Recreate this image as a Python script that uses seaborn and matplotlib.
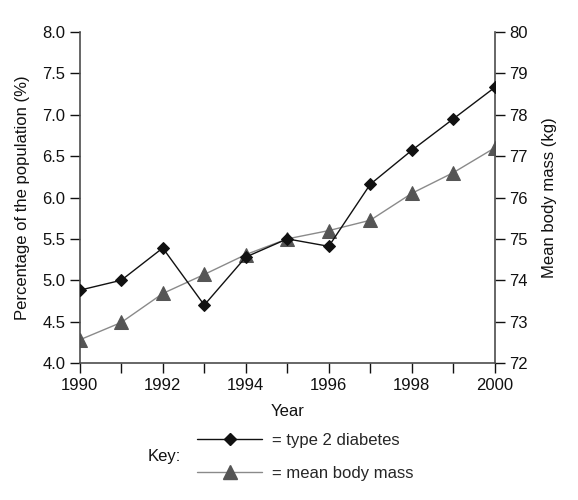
import numpy as np
import pandas as pd
import matplotlib
matplotlib.use("Agg")
import matplotlib.pyplot as plt
import seaborn as sns
from matplotlib.lines import Line2D

# Data
years = [1990, 1991, 1992, 1993, 1994, 1995, 1996, 1997, 1998, 1999, 2000]
diabetes_pct = [4.88, 5.0, 5.39, 4.70, 5.28, 5.5, 5.41, 6.16, 6.57, 6.95, 7.33]
body_mass_kg = [72.56, 72.98, 73.68, 74.14, 74.62, 75.0, 75.2, 75.45, 76.1, 76.6, 77.2]

df = pd.DataFrame({'Year': years, 'Diabetes': diabetes_pct, 'Mass': body_mass_kg})

sns.set_style("ticks")
plt.rcParams['font.family'] = ['Liberation Sans', 'DejaVu Sans']
plt.rcParams['font.size'] = 12

fig = plt.figure(figsize=(5.78, 5.0), dpi=100)
ax = fig.add_axes([0.138, 0.274, 0.718, 0.662])
ax2 = ax.twinx()

dark = '#111111'
spine_col = '#4d4d4d'
grey_line = '#8a8a8a'
grey_mark = '#555555'

# body mass (right axis) drawn first so diabetes sits on top
sns.lineplot(data=df, x='Year', y='Mass', ax=ax2, color=grey_line, linewidth=1.0,
             marker='^', markersize=10, markerfacecolor=grey_mark,
             markeredgecolor=grey_mark, zorder=2)
sns.lineplot(data=df, x='Year', y='Diabetes', ax=ax, color=dark, linewidth=1.0,
             marker='D', markersize=6.5, markerfacecolor=dark,
             markeredgecolor=dark, zorder=3)
ax.set_zorder(ax2.get_zorder() + 1)
ax.patch.set_visible(False)

ax.set_xlim(1990, 2000)
ax.set_ylim(4.0, 8.0)
ax2.set_ylim(72, 80)
ax.set_xticks(range(1990, 2001))
ax.set_xticklabels([str(y) if y % 2 == 0 else '' for y in range(1990, 2001)])
ax.set_yticks(np.arange(4.0, 8.01, 0.5))
ax.set_yticklabels([f"{v:.1f}" for v in np.arange(4.0, 8.01, 0.5)])
ax2.set_yticks(range(72, 81))

ax.set_xlabel("Year", fontsize=12, labelpad=8, color=dark)
ax.set_ylabel("Percentage of the population (%)", fontsize=12, labelpad=9, color=dark)
ax2.set_ylabel("Mean body mass (kg)", fontsize=12, labelpad=10, color=dark)

for a in (ax, ax2):
    a.spines['top'].set_visible(False)
    for s in a.spines.values():
        s.set_color(spine_col)
        s.set_linewidth(1.2)
    a.tick_params(direction='out', length=7, width=1.0, color=dark,
                  labelsize=12, labelcolor=dark)
ax2.spines['left'].set_visible(False)
ax2.spines['bottom'].set_visible(False)
ax.spines['right'].set_visible(False)

# key
handles = [
    Line2D([], [], color=dark, linewidth=1.0, marker='D', markersize=6.5,
           markerfacecolor=dark, markeredgecolor=dark),
    Line2D([], [], color=grey_line, linewidth=1.0, marker='^', markersize=10,
           markerfacecolor=grey_mark, markeredgecolor=grey_mark),
]
fig.legend(handles, ["= type 2 diabetes", "= mean body mass"],
           loc='center left', bbox_to_anchor=(0.315, 0.086), frameon=False,
           handlelength=3.9, handletextpad=0.6, labelspacing=1.05, fontsize=12)
fig.text(0.256, 0.086, "Key:", fontsize=12, va='center', ha='left', color=dark)

plt.savefig("out.png", dpi=100)
